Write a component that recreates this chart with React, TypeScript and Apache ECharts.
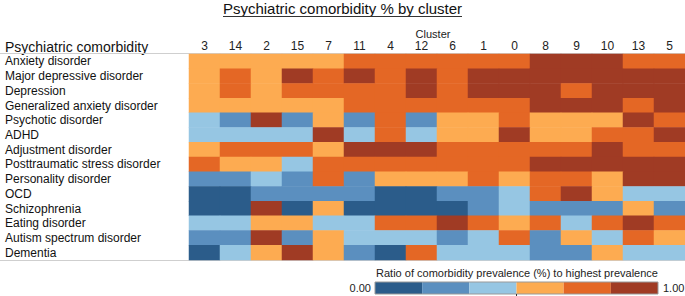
import React, { useEffect, useRef } from "react";
import * as echarts from "echarts";

const clusters = ["3", "14", "2", "15", "7", "11", "4", "12", "6", "1", "0", "8", "9", "10", "13", "5"];
const comorbidities = [
  "Anxiety disorder",
  "Major depressive disorder",
  "Depression",
  "Generalized anxiety disorder",
  "Psychotic disorder",
  "ADHD",
  "Adjustment disorder",
  "Posttraumatic stress disorder",
  "Personality disorder",
  "OCD",
  "Schizophrenia",
  "Eating disorder",
  "Autism spectrum disorder",
  "Dementia",
];

// ratio class per cell (1 = lowest sixth … 6 = highest sixth), columns in cluster order
const anxiety = [4, 4, 4, 4, 4, 5, 5, 5, 5, 5, 5, 6, 6, 6, 5, 5];
const majorDepressive = [4, 5, 4, 6, 5, 6, 5, 6, 5, 6, 6, 6, 6, 6, 6, 6];
const depression = [4, 5, 4, 5, 5, 5, 5, 6, 5, 6, 6, 6, 5, 6, 6, 6];
const generalizedAnxiety = [4, 4, 4, 4, 4, 5, 5, 5, 5, 5, 5, 6, 6, 6, 5, 6];
const psychotic = [3, 2, 6, 2, 4, 2, 5, 2, 4, 4, 5, 4, 4, 4, 6, 5];
const adhd = [3, 3, 3, 3, 6, 3, 5, 3, 4, 4, 6, 4, 4, 5, 5, 6];
const adjustment = [4, 5, 5, 5, 4, 6, 6, 6, 5, 5, 5, 5, 5, 6, 5, 5];
const ptsd = [5, 4, 4, 3, 5, 5, 5, 5, 5, 5, 5, 6, 6, 6, 6, 6];
const personality = [2, 2, 3, 2, 5, 2, 4, 4, 4, 5, 4, 5, 5, 4, 6, 6];
const ocd = [1, 1, 2, 2, 2, 2, 1, 1, 2, 2, 3, 5, 6, 4, 3, 3];
const schizophrenia = [1, 1, 6, 1, 4, 1, 1, 1, 1, 2, 3, 2, 2, 2, 4, 2];
const eating = [3, 3, 4, 4, 3, 3, 5, 5, 6, 5, 4, 5, 3, 5, 6, 5];
const autism = [2, 2, 6, 2, 4, 3, 3, 3, 2, 3, 5, 2, 4, 3, 5, 4];
const dementia = [1, 3, 4, 6, 4, 2, 1, 5, 3, 3, 3, 2, 2, 4, 3, 3];

const rows = [
  anxiety, majorDepressive, depression, generalizedAnxiety, psychotic, adhd, adjustment,
  ptsd, personality, ocd, schizophrenia, eating, autism, dementia,
];

const levelColors = ["#2b5c8a", "#5b8fbf", "#96c6e3", "#fdab51", "#e46725", "#a03b24"];
const legendTicks = ["0.00", "1.00"];

const FONT = "'Liberation Sans', Arial, sans-serif";

export default function App() {
  const ref = useRef<HTMLDivElement>(null);
  useEffect(() => {
    if (!ref.current) return;
    const chart = echarts.init(ref.current, undefined, { renderer: "svg" });
    const data: number[][] = [];
    rows.forEach((r, yi) => r.forEach((v, xi) => data.push([xi, yi, v])));

    const barLeft = 375;
    const barW = 283;
    const barTop = 282;
    const barH = 12;

    chart.setOption({
      animation: false,
      textStyle: { fontFamily: FONT },
      grid: { left: 189, right: 0, top: 54, bottom: 36 },
      xAxis: {
        type: "category",
        position: "top",
        data: clusters,
        axisLine: { show: false },
        axisTick: { show: false },
        splitLine: { show: false },
        axisLabel: { fontSize: 12, color: "#222", margin: 2, interval: 0, fontFamily: FONT },
      },
      yAxis: {
        type: "category",
        inverse: true,
        data: comorbidities,
        axisLine: { show: false },
        axisTick: { show: false },
        splitLine: { show: false },
        axisLabel: { fontSize: 12, color: "#111", align: "left", margin: 184, interval: 0, fontFamily: FONT },
      },
      visualMap: {
        type: "piecewise",
        orient: "horizontal",
        left: barLeft,
        top: barTop,
        itemWidth: barW / 6,
        itemHeight: barH,
        itemGap: 0,
        itemSymbol: "rect",
        showLabel: false,
        selectedMode: false,
        dimension: 2,
        padding: 0,
        pieces: levelColors.map((c, i) => ({ value: i + 1, color: c })),
      },
      series: [
        {
          type: "heatmap",
          data,
          itemStyle: { borderWidth: 0 },
          emphasis: { disabled: true },
        },
      ],
      graphic: [
        {
          type: "text",
          left: "center",
          top: 1,
          style: { text: "Psychiatric comorbidity % by cluster", font: `15px ${FONT}`, fill: "#111" },
        },
        {
          type: "line",
          shape: { x1: 223, y1: 16.5, x2: 462, y2: 16.5 },
          style: { stroke: "#333", lineWidth: 1 },
        },
        {
          type: "text",
          x: 433,
          y: 34,
          style: { text: "Cluster", font: `11px ${FONT}`, fill: "#222", align: "center", verticalAlign: "middle" },
        },
        {
          type: "text",
          x: 5,
          y: 47,
          style: { text: "Psychiatric comorbidity", font: `14px ${FONT}`, fill: "#111", verticalAlign: "middle" },
        },
        {
          type: "line",
          shape: { x1: 0, y1: 53.5, x2: 685, y2: 53.5 },
          style: { stroke: "#cfcfcf", lineWidth: 1 },
        },
        {
          type: "line",
          shape: { x1: 0, y1: 260.5, x2: 685, y2: 260.5 },
          style: { stroke: "#cfcfcf", lineWidth: 1 },
        },
        {
          type: "text",
          x: 517,
          y: 273,
          style: {
            text: "Ratio of comorbidity prevalence (%) to highest prevalence",
            font: `11px ${FONT}`,
            fill: "#222",
            align: "center",
            verticalAlign: "middle",
          },
        },
        {
          type: "rect",
          shape: { x: barLeft, y: barTop, width: barW, height: barH },
          style: { fill: "none", stroke: "#999", lineWidth: 1 },
          z: 100,
        },
        {
          type: "line",
          shape: { x1: barLeft + barW / 2, y1: barTop + barH, x2: barLeft + barW / 2, y2: barTop + barH + 4 },
          style: { stroke: "#333", lineWidth: 1 },
          z: 100,
        },
        {
          type: "text",
          x: barLeft - 4,
          y: barTop + barH / 2,
          style: { text: legendTicks[0], font: `11px ${FONT}`, fill: "#222", align: "right", verticalAlign: "middle" },
        },
        {
          type: "text",
          x: barLeft + barW + 5,
          y: barTop + barH / 2,
          style: { text: legendTicks[1], font: `11px ${FONT}`, fill: "#222", align: "left", verticalAlign: "middle" },
        },
      ],
    });
    return () => chart.dispose();
  }, []);
  return <div ref={ref} style={{ width: 685, height: 296, position: "absolute", left: 0, top: 0 }} />;
}
